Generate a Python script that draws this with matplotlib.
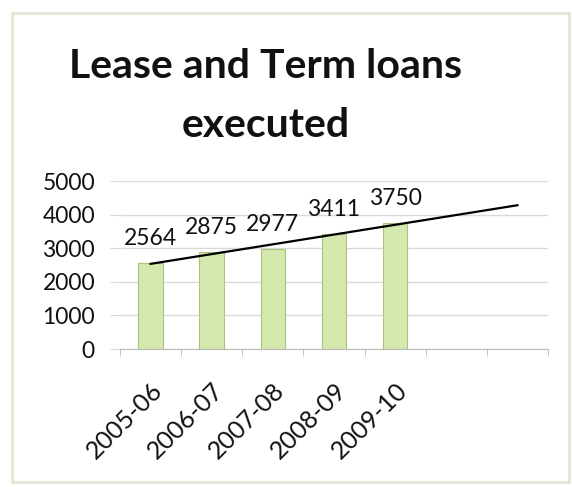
import matplotlib.pyplot as plt
import numpy as np
from matplotlib.patches import Rectangle

years = ["2005-06", "2006-07", "2007-08", "2008-09", "2009-10"]
loans = [2564, 2875, 2977, 3411, 3750]

W, H = 572, 487
fig = plt.figure(figsize=(W / 100, H / 100), dpi=100)

# chart frame
fig.patches.append(Rectangle((12 / W, 5 / H), 557 / W, 469 / H, transform=fig.transFigure,
                             fill=False, edgecolor="#e2e8d3", lw=2))

fig.text(266 / W, 1 - 78 / H, "Lease and Term loans", ha="center", va="baseline",
         fontsize=29.5, fontweight="bold", family="Lato", color="#111111")
fig.text(266 / W, 1 - 137 / H, "executed", ha="center", va="baseline",
         fontsize=29.5, fontweight="bold", family="Lato", color="#111111")

ax = fig.add_axes([120 / W, 1 - 349 / H, 428 / W, 168 / H])
x = np.arange(len(years))
ax.bar(x, loans, width=0.4, color="#d5e8ae", edgecolor="#aac37e", linewidth=0.8, zorder=2)

for xi, v in zip(x, loans):
    ax.annotate(str(v), (xi, v), xytext=(0, 13), textcoords="offset points",
                ha="center", va="baseline", fontsize=16.5, family="Lato", color="#111111")

# linear trend, extended two periods ahead
k, b = np.polyfit(x, loans, 1)
tx = np.array([0, 6])
ax.plot(tx, k * tx + b, color="black", lw=1.6, zorder=3)

ax.set_xlim(-0.5, 6.5)
ax.set_ylim(0, 5000)
ax.set_yticks(range(0, 5001, 1000))
ax.set_xticks(x)
ax.set_xticklabels(years, rotation=45, ha="right", rotation_mode="anchor")
ax.set_xticks(np.arange(-0.5, 7, 1), minor=True)
ax.tick_params(axis="x", which="major", length=0, pad=21, labelsize=18)
ax.tick_params(axis="x", which="minor", length=5, color="#bbbbbb", direction="out")
ax.tick_params(axis="y", length=7, color="#d9d9d9", labelsize=16.5, pad=11)
for lab in ax.get_xticklabels() + ax.get_yticklabels():
    lab.set_family("Lato")
    lab.set_color("#111111")

ax.grid(axis="y", color="#d9d9d9", lw=1, zorder=0)
for s in ["top", "right", "left"]:
    ax.spines[s].set_visible(False)
ax.spines["bottom"].set_color("#bbbbbb")

fig.savefig("out.png", dpi=100)
